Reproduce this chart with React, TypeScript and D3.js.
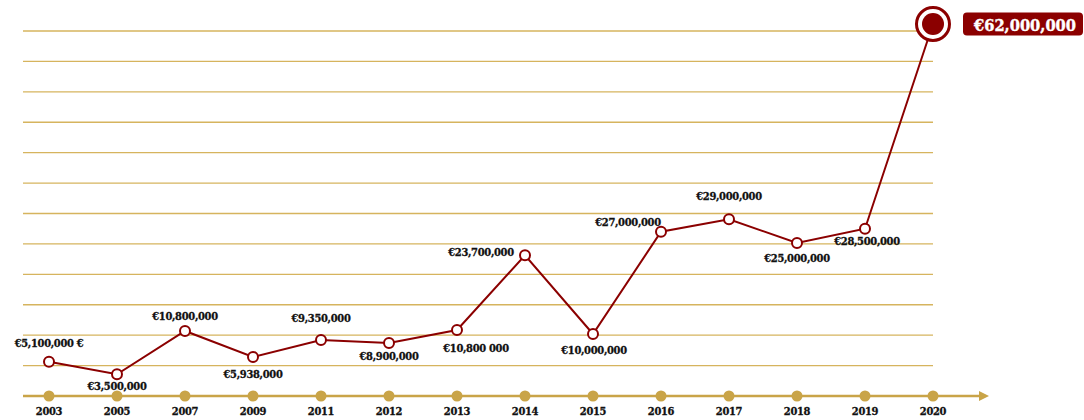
import React from "react";
import * as d3 from "d3";

const years = ["2003","2005","2007","2009","2011","2012","2013","2014","2015","2016","2017","2018","2019","2020"];
// values in millions of euros, as plotted
const values = [5.64, 3.57, 10.69, 6.41, 9.21, 8.71, 10.85, 23.13, 10.19, 27.01, 29.05, 25.15, 27.5, 61.15];
const labels = ["€5,100,000 €","€3,500,000","€10,800,000","€5,938,000","€9,350,000","€8,900,000","€10,800 000","€23,700,000","€10,000,000","€27,000,000","€29,000,000","€25,000,000","€28,500,000","€62,000,000"];
const gridValues = [5,10,15,20,25,30,35,40,45,50,55,60];

// layout: label offsets relative to the point (dx, dy to baseline)
const labelOffsets: [number, number][] = [
  [0, -15], [0, 16], [0, -11], [0, 21], [0, -18], [0, 17], [19, 22], [-44, 1], [1, 20], [-33, -6], [0, -19], [0, 19], [2, 16], [0, 0],
];

const W = 1084, H = 420;
const RED = "#8b0000";
const GOLD = "#c9a448";
const GRID = "#d6b45e";
const FONT = "DejaVu Serif";

const labelStyle: React.CSSProperties = { fontFamily: FONT, fontWeight: 700, fontSize: 11, fontStretch: "condensed", letterSpacing: -0.3 };

export default function App() {
  const x = d3.scalePoint<string>().domain(years).range([49, 933]);
  const y = d3.scaleLinear().domain([0, 60]).range([396, 31]);
  const line = d3.line<number>().x((_, i) => x(years[i])!).y(d => y(d));
  const last = values.length - 1;

  return (
    <svg width={W} height={H} style={{ position: "absolute", left: 0, top: 0, display: "block", background: "#fff" }}>
      {gridValues.map(g => (
        <line key={g} x1={23} x2={933} y1={y(g)} y2={y(g)} stroke={GRID} strokeWidth={1.3} />
      ))}
      {/* axis */}
      <line x1={23} x2={981} y1={y(0)} y2={y(0)} stroke={GOLD} strokeWidth={2.5} />
      <path d={`M979,${y(0) - 5} L989,${y(0)} L979,${y(0) + 5} Z`} fill={GOLD} />
      {years.map(yr => (
        <circle key={yr} cx={x(yr)} cy={y(0)} r={5.5} fill={GOLD} />
      ))}
      {years.map(yr => (
        <text key={"t" + yr} x={x(yr)} y={415} textAnchor="middle" style={labelStyle} fill="#111" stroke="#111" strokeWidth={0.3}>{yr}</text>
      ))}
      <path d={line(values) || ""} fill="none" stroke={RED} strokeWidth={2} />
      {values.slice(0, last).map((v, i) => (
        <circle key={"p" + i} cx={x(years[i])} cy={y(v)} r={5} fill="#fff" stroke={RED} strokeWidth={2} />
      ))}
      {labels.slice(0, last).map((l, i) => (
        <text key={"l" + i} x={x(years[i])! + labelOffsets[i][0]} y={y(values[i]) + labelOffsets[i][1]} textAnchor="middle" style={labelStyle} fill="#111" stroke="#111" strokeWidth={0.3}>{l}</text>
      ))}
      {/* final highlighted point */}
      <circle cx={x(years[last])} cy={y(values[last])} r={16.5} fill="#fff" stroke={RED} strokeWidth={3} />
      <circle cx={x(years[last])} cy={y(values[last])} r={11} fill={RED} />
      <rect x={963} y={12.5} width={120} height={23} rx={4} fill={RED} />
      <text x={974} y={30.5} textLength={102} lengthAdjust="spacingAndGlyphs" style={{ fontFamily: FONT, fontWeight: 700, fontSize: 16 }} fill="#fff" stroke="#fff" strokeWidth={0.4}>{labels[last]}</text>
    </svg>
  );
}
